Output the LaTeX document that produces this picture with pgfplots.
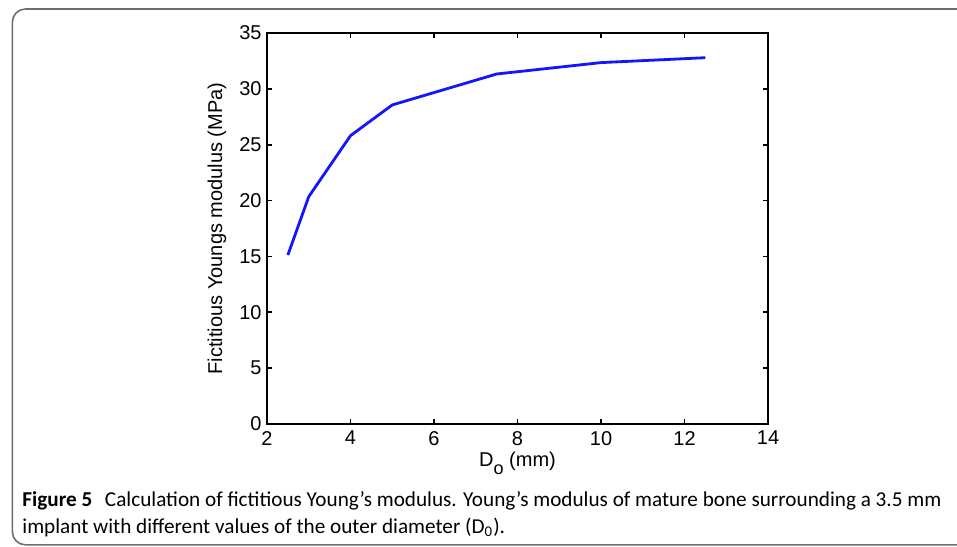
\documentclass[border=0pt]{standalone}
\usepackage{pgfplots}
\pgfplotsset{compat=1.18}
\usepackage{fontspec}
\setmainfont{Liberation Sans}
\newfontfamily\capfont{Carlito}
\definecolor{framegray}{HTML}{6E6E6E}
\begin{document}
\begin{tikzpicture}[x=1pt,y=1pt]
\useasboundingbox (0,0) rectangle (478.5,273);
\draw[framegray, line width=0.8pt, rounded corners=6.5pt] (6.2,0.6) rectangle (520,268.5);
\begin{axis}[
  at={(133.5pt,61pt)}, anchor=south west,
  scale only axis, width=250.5pt, height=195.5pt,
  xmin=2, xmax=14, ymin=0, ymax=35,
  xtick={2,4,...,14}, ytick={0,5,...,35},
  tick align=inside, major tick length=2.5pt,
  axis line style={line width=1pt},
  every tick/.style={black, line width=0.9pt},
  tick label style={font=\fontsize{10}{11}\selectfont},
  /pgf/number format/assume math mode=true,
  yticklabel style={xshift=0.8pt},
  label style={font=\fontsize{10}{11}\selectfont},
  xlabel={D\raisebox{-4pt}{\fontsize{9}{10}\selectfont o} (mm)},
  ylabel={Fictitious Youngs modulus (MPa)},
  xlabel style={at={(axis description cs:0.5,-0.1)}, anchor=center},
  ylabel style={at={(axis description cs:-0.1,0.5)}, anchor=center},
]
\addplot[color={rgb,255:red,20;green,20;blue,255}, line width=1.4pt] coordinates {
(2.5,15.13) (3,20.35) (4,25.81) (5,28.56) (7.5,31.33) (10,32.35) (12.5,32.79)
};
\end{axis}
\node[anchor=base west, inner sep=0pt, font=\capfont\fontsize{10.6}{12}\selectfont] at (11,20) {\textbf{Figure 5}\hspace{0.6em}Calculation of fictitious Young’s modulus. Young’s modulus of mature bone surrounding a 3.5 mm};
\node[anchor=base west, inner sep=0pt, font=\capfont\fontsize{10.6}{12}\selectfont] at (11,6.5) {implant with different values of the outer diameter (D\textsubscript{0}).};
\end{tikzpicture}
\end{document}
